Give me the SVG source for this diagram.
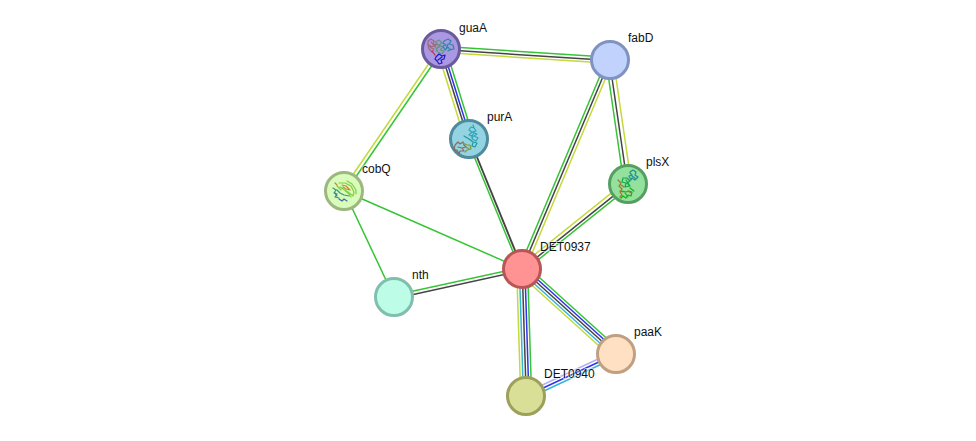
<svg xmlns="http://www.w3.org/2000/svg" width="976" height="441" viewBox="0 0 976 441">
  <style>
    text { font-family: "Liberation Sans", Arial, sans-serif; font-size: 12px; fill: #111; stroke: #fff; stroke-width: 2px; stroke-opacity: .55; paint-order: stroke; stroke-linejoin: round; }
    #connectors line { stroke-width: 1.5; fill: none; }
    .g { stroke: #35c435; }
    .k { stroke: #444; }
    .y { stroke: #c4d93a; }
    .b { stroke: #2f35e8; }
    .c { stroke: #35b4dc; }
    .l { stroke: #b4aef5; }
    .node { stroke-width: 3; }
    .rib { fill: none; stroke-width: 1.2; stroke-linejoin: round; stroke-linecap: round; }
  </style>
  <rect width="976" height="441" fill="#fff"/>

  <g id="connectors">
    <!-- guaA / fabD -->
    <line class="g" x1="441" y1="46.3" x2="610" y2="57.3"/>
    <line class="k" x1="441" y1="49.6" x2="610" y2="60.6"/>
    <line class="y" x1="441" y1="52.3" x2="610" y2="63.3"/>
    <!-- guaA / purA -->
    <line class="y" x1="436.8" y1="49" x2="464.8" y2="139"/>
    <line class="k" x1="440.2" y1="49" x2="468.2" y2="139"/>
    <line class="b" x1="442.8" y1="49" x2="470.8" y2="139"/>
    <line class="g" x1="445.8" y1="49" x2="473.8" y2="139"/>
    <!-- purA / DET0937 -->
    <line class="g" x1="467" y1="139" x2="520" y2="269"/>
    <line class="k" x1="469.6" y1="139" x2="522.6" y2="269" style="stroke-width:1.9"/>
    <!-- fabD / DET0937 -->
    <line class="g" x1="606.7" y1="60" x2="518.7" y2="269"/>
    <line class="k" x1="610" y1="60" x2="522" y2="269"/>
    <line class="y" x1="613.3" y1="60" x2="525.3" y2="269"/>
    <!-- fabD / plsX -->
    <line class="g" x1="606" y1="60" x2="624" y2="184"/>
    <line class="k" x1="609.4" y1="60" x2="627.4" y2="184"/>
    <line class="y" x1="613.4" y1="60" x2="631.4" y2="184"/>
    <!-- plsX / DET0937 -->
    <line class="y" x1="625.9" y1="181.4" x2="519.9" y2="266.4"/>
    <line class="k" x1="628.1" y1="184.2" x2="522.1" y2="269.2"/>
    <line class="g" x1="629.9" y1="186.3" x2="523.9" y2="271.3"/>
    <!-- guaA / cobQ -->
    <line class="y" x1="439.5" y1="48" x2="342.5" y2="190"/>
    <line class="g" x1="442.5" y1="50" x2="345.5" y2="192"/>
    <!-- single-channel links -->
    <line class="g" x1="344" y1="191" x2="522" y2="269"/>
    <line class="g" x1="344" y1="191" x2="394" y2="297"/>
    <!-- nth / DET0937 -->
    <line class="g" x1="394" y1="295.3" x2="522" y2="267.3"/>
    <line class="k" x1="394" y1="298.7" x2="522" y2="270.7"/>
    <!-- DET0937 / paaK -->
    <line class="g" x1="525.6" y1="265" x2="619.6" y2="350"/>
    <line class="b" x1="523.8" y1="267" x2="617.8" y2="352"/>
    <line class="k" x1="522" y1="269" x2="616" y2="354"/>
    <line class="c" x1="520.2" y1="271" x2="614.2" y2="356"/>
    <line class="y" x1="518.4" y1="273" x2="612.4" y2="358"/>
    <!-- DET0937 / DET0940 -->
    <line class="y" x1="516.7" y1="269" x2="520.7" y2="396"/>
    <line class="c" x1="519.4" y1="269" x2="523.4" y2="396"/>
    <line class="k" x1="522.2" y1="269" x2="526.2" y2="396"/>
    <line class="b" x1="524.9" y1="269" x2="528.9" y2="396"/>
    <line class="g" x1="527.6" y1="269" x2="531.6" y2="396"/>
    <!-- DET0940 / paaK -->
    <line class="l" x1="524.7" y1="393.3" x2="614.7" y2="351.3"/>
    <line class="b" x1="526" y1="396" x2="616" y2="354"/>
    <line class="c" x1="527.3" y1="398.7" x2="617.3" y2="356.7"/>
  </g>

  <g id="node-guaA">
    <circle class="node" cx="441" cy="49" r="18.5" fill="#ab98e2" stroke="#6b5a9d"/>
    <path class="rib" stroke="#a06a78" d="M428 41l3-2 3 2-1 3 3 1-4 2-3-2 2 3 3 1-2 3-3-3-1-4zM431 42l4 5 2-4"/>
    <path class="rib" stroke="#c02848" d="M432 51l3 4"/>
    <path class="rib" stroke="#5f9a78" d="M435 42l4-2 3 3-3 2 4 2-3 3 4 1-2 3-4-2-2-4 4-1zM438 47l-2 4"/>
    <path class="rib" stroke="#2c88a6" d="M444 41l4-2 3 2-2 3 4 1 1 4-4 1-2-3-3 3-2-4 3-1-3-2zM448 44l-2 5M451 49l-3 2"/>
    <path class="rib" stroke="#1c1cc8" d="M436 57l3-3 3 2 3-1-1 4-3 1 1 3-3 1-2-3-2-2zM438 60l4-3"/>
  </g>

  <g id="node-fabD">
    <circle class="node" cx="610" cy="60" r="18.5" fill="#c1d3fd" stroke="#7f92c0"/>
  </g>

  <g id="node-purA">
    <circle class="node" cx="469" cy="139" r="18.5" fill="#94d3e1" stroke="#4f8b9c"/>
    <path class="rib" stroke="#2fa4b8" d="M471 127l3 1 2 3-4 1 5 2-3 2 4 2-2 3-4-2 1-3-4-1 3-3-3-2zM473 125l1 3M474 133l-3 4"/>
    <path class="rib" stroke="#1f9a9a" d="M464 136l5 3 4 3 4 1-2 4-3-1 1-3"/>
    <path class="rib" stroke="#8a6a60" d="M455 145l3-3 2 2 3-2 1 3 2 2-4 1 2 3-4 0-1 3-2-4-3 0zM458 147l4 1"/>
    <path class="rib" stroke="#7f9a4a" d="M463 143l4 2 3 0 1 4-4 1-2 2M466 147l3 2"/>
  </g>

  <g id="node-plsX">
    <circle class="node" cx="628" cy="184" r="18.5" fill="#94e09d" stroke="#55a061"/>
    <path class="rib" stroke="#1f8f9a" d="M630 172l3-2 3 2-1 3 3 2-3 3-3-2-1 2-2-4 3-1-2-2zM632 176l3 2"/>
    <path class="rib" stroke="#12a84a" d="M623 178l4 0 3 3-3 2 3 3-5 1 1-4-4-1zM626 180l4 6"/>
    <path class="rib" stroke="#9a7a30" d="M618 180l3 3-2 3 3 3-2 3 2 3-2 2M621 185l3 2M620 191l3 1"/>
    <path class="rib" stroke="#18b018" d="M622 191l4 1 3-1 3 1-1 4-3-1-2 3-3-2-2 2M630 188l4 3M625 193l3 4"/>
    <path class="rib" stroke="#9a7a30" d="M628 191l3 2"/>
  </g>

  <g id="node-cobQ">
    <circle class="node" cx="344" cy="191" r="18.5" fill="#d9fbbb" stroke="#9bb97f"/>
    <path class="rib" stroke="#7fd040" d="M339 183l6 0 6 3 3 6-1 4-5-4-5-3-3-2M347 181l5 3 4 6 0 4M342 188l6 5 3 4M337 186l4 4"/>
    <path class="rib" stroke="#c08a30" d="M342 185l4 1 4 4-4-1-3-2M335 183l2 2"/>
    <path class="rib" stroke="#2f9a80" d="M333 188l3 2-2 3 3 1-2 3 4 1M337 190l3 3 4 2 5 1"/>
    <path class="rib" stroke="#3a70a0" d="M339 199l3 2 2-2 3 2M335 193l2 3"/>
  </g>

  <g id="node-DET0937">
    <circle class="node" cx="522" cy="269" r="18.5" fill="#ff9292" stroke="#b85656"/>
  </g>

  <g id="node-nth">
    <circle class="node" cx="394" cy="297" r="18.5" fill="#bdfde7" stroke="#80bfad"/>
  </g>

  <g id="node-paaK">
    <circle class="node" cx="616" cy="354" r="18.5" fill="#ffe0c2" stroke="#bfa181"/>
  </g>

  <g id="node-DET0940">
    <circle class="node" cx="526" cy="396" r="18.5" fill="#d9df97" stroke="#9ba05b"/>
  </g>

  <g id="labels">
    <text x="459" y="32">guaA</text>
    <text x="628" y="42">fabD</text>
    <text x="487" y="121">purA</text>
    <text x="646" y="166">plsX</text>
    <text x="362" y="173">cobQ</text>
    <text x="540" y="251">DET0937</text>
    <text x="412" y="279">nth</text>
    <text x="634" y="336">paaK</text>
    <text x="544" y="378">DET0940</text>
  </g>
</svg>
